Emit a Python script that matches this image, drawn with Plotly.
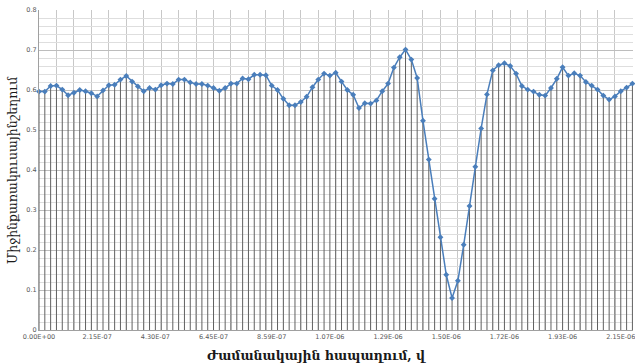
import plotly.graph_objects as go

dt = 2.1485e-08
values = [
    0.596, 0.596, 0.610, 0.611, 0.601, 0.587, 0.593, 0.600, 0.597, 0.592,
    0.584, 0.599, 0.612, 0.613, 0.626, 0.635, 0.621, 0.609, 0.597, 0.605,
    0.601, 0.612, 0.616, 0.615, 0.626, 0.626, 0.619, 0.615, 0.615, 0.611,
    0.605, 0.598, 0.605, 0.616, 0.616, 0.629, 0.627, 0.638, 0.638, 0.637,
    0.611, 0.600, 0.578, 0.562, 0.562, 0.570, 0.583, 0.607, 0.626, 0.641,
    0.636, 0.643, 0.621, 0.600, 0.588, 0.555, 0.567, 0.566, 0.574, 0.597,
    0.616, 0.656, 0.682, 0.701, 0.676, 0.630, 0.523, 0.426, 0.328, 0.232,
    0.138, 0.080, 0.123, 0.213, 0.310, 0.408, 0.504, 0.589, 0.649, 0.662,
    0.667, 0.660, 0.641, 0.610, 0.601, 0.596, 0.588, 0.586, 0.605, 0.628,
    0.657, 0.636, 0.642, 0.636, 0.620, 0.611, 0.601, 0.586, 0.576, 0.584,
    0.597, 0.606, 0.616,
]
times = [i * dt for i in range(len(values))]
tick_labels = ["0.00E+00", "2.15E-07", "4.30E-07", "6.45E-07", "8.59E-07",
               "1.07E-06", "1.29E-06", "1.50E-06", "1.72E-06", "1.93E-06", "2.15E-06"]
tick_vals = [i * 10 * dt for i in range(len(tick_labels))]
y_ticks = [0, 0.1, 0.2, 0.3, 0.4, 0.5, 0.6, 0.7, 0.8]
y_title = "Միջինքառակուսայինշեղում"
x_title = "Ժամանակային հապաղում, վ"

fig = go.Figure()
fig.add_trace(go.Scatter(
    x=times, y=values, mode="lines+markers",
    line=dict(color="#4A7EBB", width=1.5),
    marker=dict(symbol="diamond", size=4.5, color="#4A7EBB"),
    error_y=dict(type="data", symmetric=False, array=[0] * len(values),
                 arrayminus=values, thickness=1, width=0, color="#606060"),
    cliponaxis=False, showlegend=False,
))

fig.update_layout(
    width=635, height=363,
    margin=dict(l=39, r=0, t=10, b=33),
    paper_bgcolor="white", plot_bgcolor="white",
    font=dict(family="DejaVu Sans", color="#595959"),
    xaxis=dict(
        range=[0, 102.1 * dt], tickvals=tick_vals, ticktext=tick_labels,
        tickfont=dict(size=6.5, color="#595959"), showgrid=False, zeroline=False,
        showline=True, linecolor="#a0a0a0", linewidth=1,
        ticklabeloverflow="allow",
        minor=dict(tick0=0, dtick=3 * dt, showgrid=True, gridcolor="#c8c8c8", gridwidth=1),
    ),
    yaxis=dict(
        range=[0, 0.8], tickvals=y_ticks, ticktext=[str(v) for v in y_ticks],
        tickfont=dict(size=6.5, color="#595959"), showgrid=True, gridcolor="#bdbdbd",
        gridwidth=1, zeroline=False, showline=True, linecolor="#a0a0a0",
        minor=dict(dtick=0.02, showgrid=True, gridcolor="#dedede", gridwidth=1),
        ticks="", ticklen=0,
    ),
    annotations=[
        dict(text=y_title, xref="paper", yref="paper", x=0, y=0.5, xanchor="center",
             yanchor="middle", xshift=-27, textangle=-90, showarrow=False,
             font=dict(family="DejaVu Serif", size=12.5, color="#1a1a1a")),
        dict(text="<b>" + x_title + "</b>", xref="paper", yref="paper", x=0.468, y=0,
             xanchor="center", yanchor="middle", yshift=-25, showarrow=False,
             font=dict(family="DejaVu Serif", size=12.5, color="#1a1a1a")),
    ],
)

fig.write_html("out.html")
